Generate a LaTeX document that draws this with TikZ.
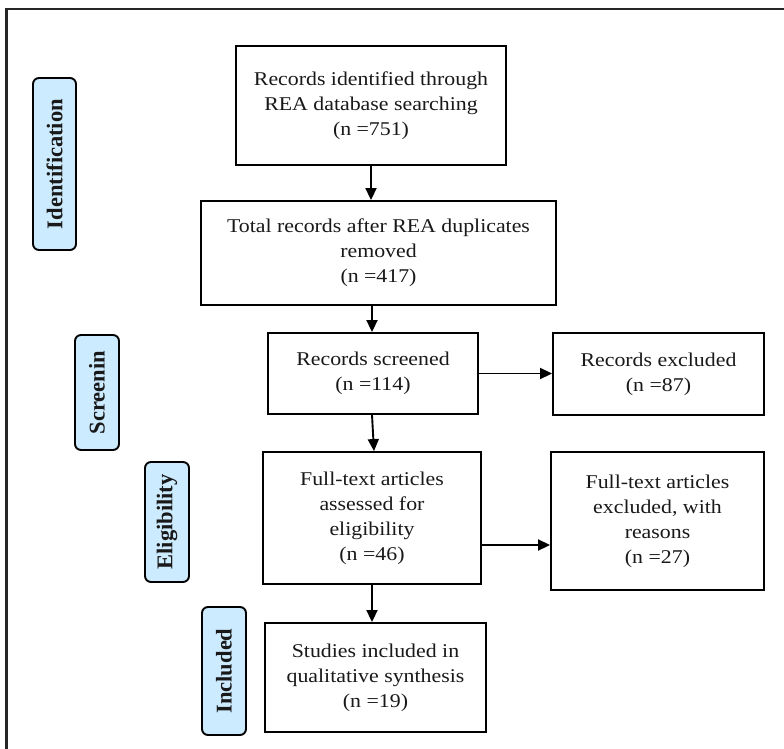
\documentclass[tikz,border=0pt]{standalone}
\usepackage{fontspec}
\setmainfont[FakeStretch=1.12]{Liberation Serif}
\newfontfamily\lblfont{Liberation Serif}
\usetikzlibrary{arrows.meta,calc}
\definecolor{lblblue}{HTML}{CDEBFF}
\definecolor{framegray}{HTML}{262626}
\tikzset{
  flowbox/.style={draw=black, line width=1.9pt, fill=white, align=center, inner sep=0pt,
    font=\fontsize{19.5}{25}\selectfont, text=black!90},
  phase/.style={draw=black, line width=1.9pt, fill=lblblue, rounded corners=6pt, rotate=90,
    inner sep=0pt, font=\lblfont\fontsize{22.5}{26}\selectfont\bfseries, text=black!90},
  arr/.style={line width=1.9pt, -{Triangle[length=12pt,width=11pt]}}
}
\begin{document}
\begin{tikzpicture}[x=1pt,y=-1pt]
\useasboundingbox (0,0) rectangle (784,749);
% outer frame (top and left edges visible)
\draw[framegray, line width=2.5pt] (6.5,749) -- (6.5,9) -- (784,9);

% flow boxes
\node[flowbox, minimum width=270pt, minimum height=119pt] (b1) at (371,105.5)
  {Records identified through\\REA database searching\\(n =751)};
\node[flowbox, minimum width=355pt, minimum height=104pt] (b2) at (378.5,253)
  {Total records after REA duplicates\\removed\\(n =417)};
\node[flowbox, minimum width=210pt, minimum height=81pt] (b3) at (373,373.5)
  {Records screened\\(n =114)};
\node[flowbox, minimum width=211pt, minimum height=82pt] (ex1) at (658.5,374)
  {Records excluded\\(n =87)};
\node[flowbox, minimum width=218pt, minimum height=132pt] (b4) at (372,518)
  {Full-text articles\\assessed for\\eligibility\\(n =46)};
\node[flowbox, minimum width=213pt, minimum height=138pt] (ex2) at (657.5,521)
  {Full-text articles\\excluded, with\\reasons\\(n =27)};
\node[flowbox, minimum width=221pt, minimum height=109pt] (b5) at (375.5,677.5)
  {Studies included in\\qualitative synthesis\\(n =19)};

% phase labels
\node[phase, minimum width=172pt, minimum height=43pt] (p1) at (54.5,164) {Identification};
\node[phase, minimum width=115pt, minimum height=44pt] (p2) at (97,392.5) {Screenin};
\node[phase, minimum width=120pt, minimum height=44pt] (p3) at (167,522) {Eligibility};
\node[phase, minimum width=128pt, minimum height=44pt] (p4) at (224,671) {Included};

% connectors
\draw[arr] (b1.south) -- (b1.south |- b2.north);
\draw[arr] ([xshift=-6.5pt]b2.south) -- ([xshift=-6.5pt]b2.south |- b3.north);
\draw[arr] ([xshift=-1pt]b3.south) -- ([xshift=2pt]b4.north);
\draw[arr] (b4.south) -- (b4.south |- b5.north);
\draw[arr] (b3.east) -- (b3.east -| ex1.west);
\draw[arr] ([yshift=-27pt]b4.east) -- ([yshift=-27pt]b4.east -| ex2.west);
\end{tikzpicture}
\end{document}
